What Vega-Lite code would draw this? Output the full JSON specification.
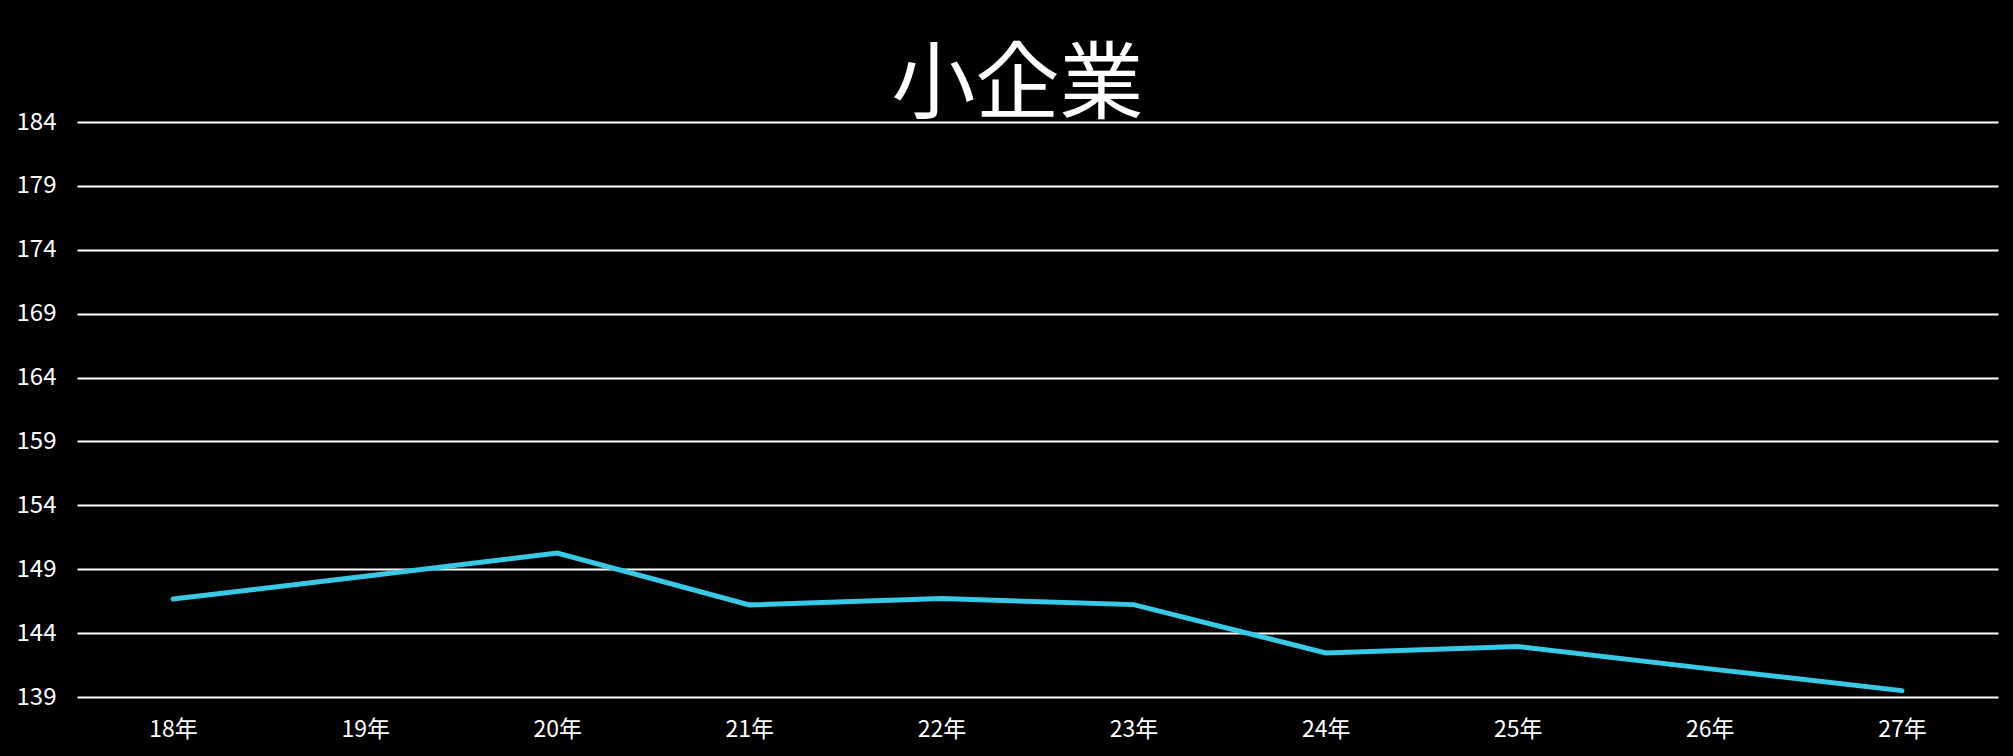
{
  "$schema": "https://vega.github.io/schema/vega-lite/v6.json",
  "width": 1921,
  "height": 575,
  "autosize": "none",
  "padding": {"left": 77, "top": 122, "right": 15, "bottom": 59},
  "background": "#000000",
  "title": {
    "text": "小企業",
    "font": "Noto Sans CJK JP",
    "fontSize": 84,
    "fontWeight": "normal",
    "color": "#ffffff",
    "anchor": "middle",
    "dx": -20,
    "dy": 22,
    "offset": 2
  },
  "data": {
    "values": [
      {"year": "18年", "value": 146.67},
      {"year": "19年", "value": 148.45},
      {"year": "20年", "value": 150.27},
      {"year": "21年", "value": 146.21},
      {"year": "22年", "value": 146.7},
      {"year": "23年", "value": 146.23},
      {"year": "24年", "value": 142.45},
      {"year": "25年", "value": 142.95},
      {"year": "26年", "value": 141.2},
      {"year": "27年", "value": 139.5}
    ]
  },
  "mark": {"type": "line", "color": "#37c9e6", "strokeWidth": 5, "strokeCap": "round", "strokeJoin": "miter"},
  "encoding": {
    "x": {
      "field": "year",
      "type": "ordinal",
      "sort": null,
      "scale": {"type": "point", "padding": 0.5},
      "axis": {
        "title": null,
        "grid": false,
        "domain": false,
        "ticks": false,
        "labelAngle": 0,
        "labelPadding": 21,
        "labelFont": "Noto Sans CJK JP",
        "labelFontSize": 23,
        "labelColor": "#ffffff"
      }
    },
    "y": {
      "field": "value",
      "type": "quantitative",
      "scale": {"domain": [139, 184], "nice": false, "zero": false},
      "axis": {
        "title": null,
        "values": [139, 144, 149, 154, 159, 164, 169, 174, 179, 184],
        "grid": true,
        "gridColor": "#ffffff",
        "gridWidth": 2,
        "gridOpacity": 1,
        "domain": false,
        "ticks": false,
        "labelPadding": 21,
        "labelFont": "Noto Sans CJK JP",
        "labelFontSize": 24,
        "labelColor": "#ffffff"
      }
    }
  },
  "config": {
    "view": {"stroke": null}
  }
}
